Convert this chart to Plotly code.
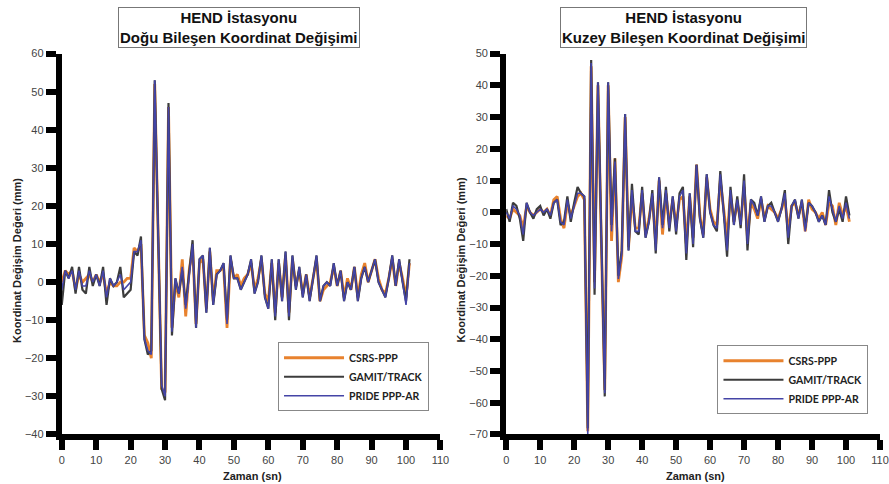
import plotly.graph_objects as go

# ---- data (mm) ----
series_names = ["CSRS-PPP", "GAMIT/TRACK", "PRIDE PPP-AR"]
x_ticks = [0, 10, 20, 30, 40, 50, 60, 70, 80, 90, 100, 110]

east_csrs = [0,3,2,3,-2,2,0,1,2,0,2,0,2,-3,0,-1,-1,0,0,1,1,
             9,8,10,-14,-16,-20,52,11,-28,-29,46,-12,
             0,-4,6,-9,3,9,-11,5,6,-7,8,-5,3,3,4,-12,6,1,2,-1,1,2,5,-2,1,6,-3,-5,5,-8,5,-4,7,-8,6,
             -1,3,-3,2,-4,1,6,-5,-2,-1,0,4,-1,3,-4,1,-2,4,-4,2,5,0,3,6,1,-2,-3,1,6,-1,5,1,-4,5]
east_gamit = [-6,3,1,4,-3,4,-2,-3,4,-1,2,-1,4,-6,1,-1,0,4,-4,-3,-2,
              8,7,12,-15,-19,-18,53,12,-28,-31,47,-14,
              1,-3,3,-6,2,11,-12,6,7,-8,9,-6,2,3,5,-10,7,1,1,-2,0,2,6,-3,0,7,-4,-7,6,-10,6,-5,8,-10,7,
              -2,4,-4,2,-5,1,7,-5,-1,0,-1,5,-1,3,-5,0,-2,4,-5,1,4,0,3,6,0,-2,-4,1,7,-1,6,0,-5,6]
east_pride = [-2,3,1,3,-2,3,-1,-1,3,0,2,-1,3,-4,1,-1,0,2,-2,-1,0,
              8,8,11,-15,-18,-19,53,12,-27,-30,46,-13,
              1,-3,4,-7,2,10,-12,6,7,-8,9,-6,2,3,5,-11,7,1,1,-2,0,2,6,-3,0,7,-4,-7,6,-9,6,-5,8,-9,7,
              -2,4,-4,2,-5,1,7,-5,-1,0,-1,5,-1,3,-5,0,-2,4,-5,1,4,0,3,6,0,-2,-4,1,7,-1,6,0,-6,5]

north_csrs = [-1,-2,1,0,-1,-5,2,0,-1,0,1,0,1,-1,4,5,-2,-5,3,-1,2,5,6,4,
              -69,46,-22,40,-10,-56,40,-9,17,-22,-14,30,-11,5,-5,-5,
              6,-7,-2,5,-10,10,-7,6,-4,4,-4,4,5,-10,5,-8,15,-1,-7,11,1,-3,-4,10,1,-8,6,-3,3,-3,
              8,-8,3,1,-2,4,-2,2,1,0,-2,1,4,-6,2,3,-1,3,-6,4,1,0,-2,0,-4,3,2,-4,3,-1,2,-3]
north_gamit = [1,-3,3,2,-2,-9,3,0,-2,1,2,-1,1,-2,3,4,-4,-3,5,-3,3,8,6,5,
               -68,48,-26,41,-8,-58,41,-4,17,-20,-12,31,-12,9,-6,-7,
               8,-8,-3,7,-13,11,-4,8,-6,5,-7,6,8,-15,6,-11,15,-2,-8,12,0,-4,-6,13,0,-14,8,-4,5,-5,
               12,-12,4,3,-1,5,-3,2,3,0,-3,1,7,-10,2,4,-2,4,-5,3,2,0,-3,-1,-4,7,0,-3,1,-3,5,-1]
north_pride = [0,-2,2,1,-1,-7,3,0,-1,0,1,0,1,-1,3,4,-3,-4,4,-2,2,6,6,5,
               -70,47,-24,41,-9,-57,41,-6,16,-21,-13,31,-12,7,-6,-6,
               7,-8,-3,6,-12,11,-5,7,-5,5,-6,5,7,-13,6,-10,15,-2,-8,12,0,-4,-5,12,0,-12,7,-4,4,-4,
               10,-10,4,2,-1,5,-3,2,2,0,-3,1,6,-8,2,4,-2,4,-6,3,2,0,-3,-1,-4,5,1,-3,2,-2,3,-2]

# ---- styling ----
colors = ["#E8822E", "#3c3c3c", "#4444a6"]
widths = [2.8, 2.2, 1.6]
FONT = "Liberation Sans, Arial, sans-serif"
W, H = 889, 484


def px(xp):
    return min(xp / 0.99, W) / W


def py(yp):
    # compensate for observed vertical rendering scale
    return 1 - ((yp - 6.5) / 0.973) / H


fig = go.Figure()

panels = [
    ([east_csrs, east_gamit, east_pride], "x", "y", "legend"),
    ([north_csrs, north_gamit, north_pride], "x2", "y2", "legend2"),
]
for data, xa, ya, lg in panels:
    for name, vals, c, w in zip(series_names, data, colors, widths):
        fig.add_trace(go.Scatter(
            x=list(range(len(vals))), y=vals, mode="lines", name=f"<b>{name}</b>",
            line=dict(color=c, width=w), xaxis=xa, yaxis=ya, legend=lg,
            showlegend=True))

axis_common = dict(
    showline=True, linecolor="black", linewidth=6,
    ticks="outside", ticklen=10, tickwidth=6, tickcolor="black",
    showgrid=False, zeroline=False,
    tickfont=dict(family=FONT, size=11, color="#444444"),
)

legend_common = dict(
    xanchor="left", yanchor="top",
    bordercolor="#888888", borderwidth=1, bgcolor="white",
    font=dict(family="Lato, sans-serif", size=10.5, color="#222222"),
    itemwidth=60, tracegroupgap=0,
)

fig.update_layout(
    width=W, height=H,
    margin=dict(l=0, r=0, t=0, b=0),
    paper_bgcolor="white", plot_bgcolor="white",
    xaxis=dict(domain=[px(59), px(439)], range=[0, 110], tickvals=x_ticks,
               anchor="y", **axis_common),
    yaxis=dict(domain=[py(434), py(54)], range=[-40, 60], dtick=10, anchor="x", **axis_common),
    xaxis2=dict(domain=[px(505), px(884)], range=[0, 110], tickvals=x_ticks,
                anchor="y2", **axis_common),
    yaxis2=dict(domain=[py(434), py(54)], range=[-70, 50], dtick=10, anchor="x2", **axis_common),
    legend=dict(x=px(276), y=py(342), **legend_common),
    legend2=dict(x=px(717), y=py(345), **legend_common),
    showlegend=True,
)

titles = [
    ("HEND İstasyonu", "Doğu Bileşen Koordinat Değişimi", 237),
    ("HEND İstasyonu", "Kuzey Bileşen Koordinat Değişimi", 683),
]
for l1, l2, cx in titles:
    fig.add_annotation(
        xref="paper", yref="paper", x=px(cx), y=py(7),
        xanchor="center", yanchor="top", showarrow=False,
        text=f"<b>{l1}</b><br><b>{l2}</b>",
        font=dict(family=FONT, size=15, color="#111111"),
        bordercolor="#777777", borderwidth=1, borderpad=1, bgcolor="white")

for cx in (14, 460):
    fig.add_annotation(
        xref="paper", yref="paper", x=px(cx), y=py(260),
        xanchor="center", yanchor="middle", showarrow=False, textangle=-90,
        text="<b>Koordinat Değişim Değeri (mm)</b>",
        font=dict(family=FONT, size=11, color="#222222"))

for cx in (250, 695):
    fig.add_annotation(
        xref="paper", yref="paper", x=px(cx), y=py(475),
        xanchor="center", yanchor="middle", showarrow=False,
        text="<b>Zaman (sn)</b>",
        font=dict(family=FONT, size=11, color="#222222"))

fig.write_html("out.html", config={"displayModeBar": False},
               post_script="document.body.style.margin='0';document.body.style.padding='0';document.body.style.overflow='hidden';")
